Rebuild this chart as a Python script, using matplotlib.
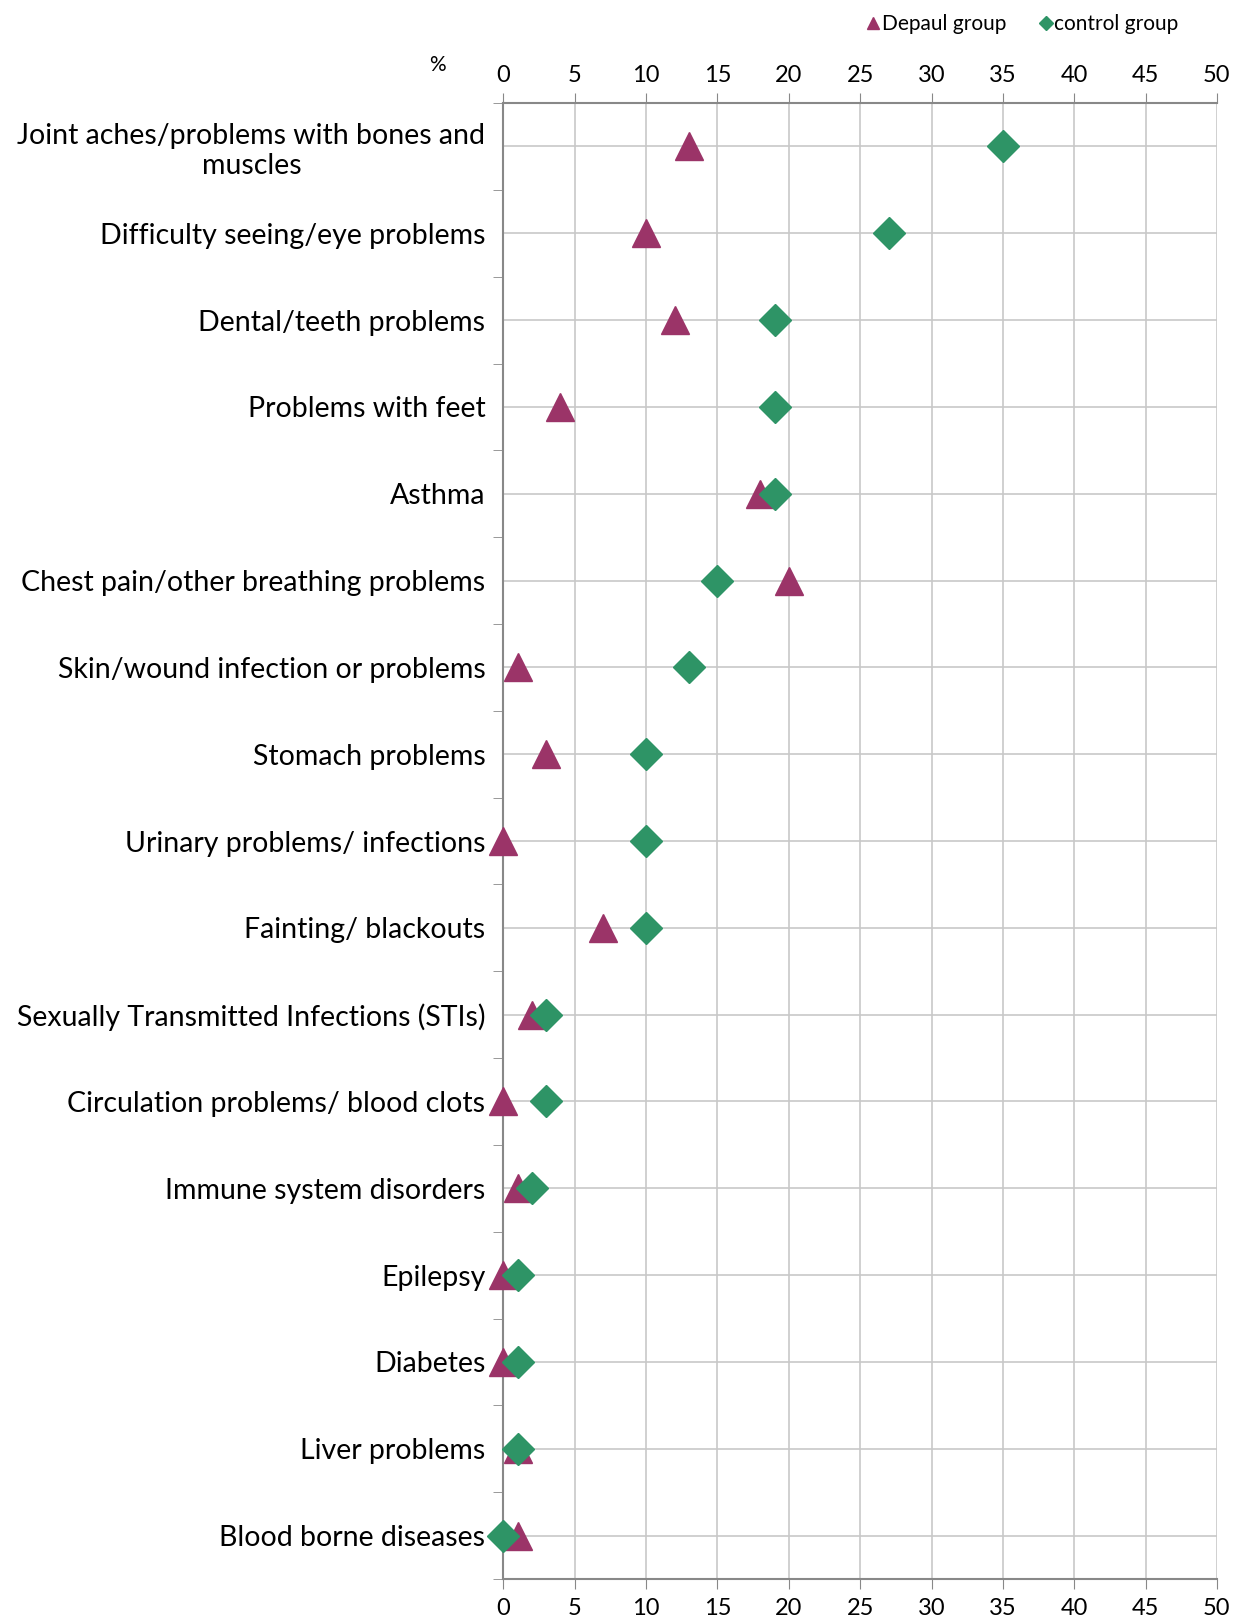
import matplotlib.pyplot as plt
import numpy as np

# health problems, % of each group
categories = ['Joint aches/problems with bones and\nmuscles',
              'Difficulty seeing/eye problems',
              'Dental/teeth problems',
              'Problems with feet',
              'Asthma',
              'Chest pain/other breathing problems',
              'Skin/wound infection or problems',
              'Stomach problems',
              'Urinary problems/ infections',
              'Fainting/ blackouts',
              'Sexually Transmitted Infections (STIs)',
              'Circulation problems/ blood clots',
              'Immune system disorders',
              'Epilepsy',
              'Diabetes',
              'Liver problems',
              'Blood borne diseases']
depaul = [13, 10, 12, 4, 18, 20, 1, 3, 0, 7, 2, 0, 1, 0, 0, 1, 1]
control = [35, 27, 19, 19, 19, 15, 13, 10, 10, 10, 3, 3, 2, 1, 1, 1, 0]
xticks = list(range(0, 55, 5))

plt.rcParams['font.family'] = ['Lato', 'DejaVu Sans']

fig = plt.figure(figsize=(12.43, 16.18), dpi=100)
ax = fig.add_axes([0.405, 0.0241, 0.574, 0.9122])

y = np.arange(len(categories))
ax.plot(depaul, y, linestyle='none', marker='^', ms=20, color='#9B3468',
        label='Depaul group', clip_on=False, zorder=3)
ax.plot(control, y, linestyle='none', marker='D', ms=16, color='#2E9466',
        label='control group', clip_on=False, zorder=4)

ax.set_xlim(0, 50)
ax.set_ylim(len(categories) - 0.5, -0.5)
ax.set_xticks(xticks)
ax.tick_params(axis='x', direction='out', length=7, color='#888888', labelsize=17, pad=7)

# top axis labels
top = ax.twiny()
top.set_xlim(0, 50)
top.set_xticks(xticks)
top.tick_params(axis='x', direction='out', length=7, color='#888888', labelsize=17, pad=5)
for s in top.spines.values():
    s.set_visible(False)

ax.set_yticks(y)
ax.set_yticklabels(categories, fontsize=20.5, multialignment='center')
ax.set_yticks(np.arange(-0.5, len(categories), 1), minor=True)
ax.tick_params(axis='y', which='major', length=0, pad=13)
ax.tick_params(axis='y', which='minor', length=7, color='#888888', direction='out')

ax.grid(True, color='#c8c8c8', linewidth=1.2)
ax.set_axisbelow(True)
for s in ['left', 'top', 'bottom']:
    ax.spines[s].set_color('#888888')
    ax.spines[s].set_linewidth(1.5)
ax.spines['right'].set_visible(False)

fig.text(0.352, 0.96, '%', fontsize=15, ha='center', va='center')

fig.legend(loc='upper right', bbox_to_anchor=(0.963, 1.003), ncol=2, frameon=False,
           fontsize=15, markerscale=0.45, handlelength=0.6, handletextpad=0.1,
           columnspacing=1.6)

fig.savefig('out.png', dpi=100)
